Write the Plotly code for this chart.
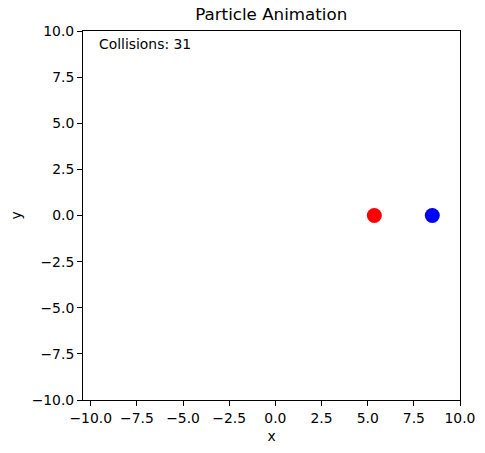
import plotly.graph_objects as go

# 粒子の位置
particle_names = ['p1', 'p2']
particle_x = [5.36, 8.5]
particle_y = [0.0, 0.0]
particle_colors = ['red', 'blue']
collisions = 31

X_RANGE = [-10.42, 10]
Y_RANGE = [-10, 10]
TICKS = [-10, -7.5, -5, -2.5, 0, 2.5, 5, 7.5, 10]
TICK_TEXT = ['\u221210.0', '\u22127.5', '\u22125.0', '\u22122.5', '0.0', '2.5', '5.0', '7.5', '10.0']
FONT = 'DejaVu Sans'

# ページの body margin (8px) を考慮
OFF = 8
W, H = 485 - OFF, 453 - OFF
L, R, T, B = 82.5 - OFF, 25, 31 - OFF, 53

fig = go.Figure(go.Scatter(x=particle_x, y=particle_y, mode='markers', marker=dict(color=particle_colors, size=15), showlegend=False, hoverinfo='skip'))

axis_style = dict(automargin=False, showgrid=False, zeroline=False, showline=True, linecolor='black', linewidth=1, mirror=True, ticks='outside', ticklen=5, tickcolor='black', tickvals=TICKS, ticktext=TICK_TEXT, tickfont=dict(family=FONT, size=13.9, color='black'))

fig.add_annotation(text=f'Collisions: {collisions}', xref='paper', yref='paper', x=0.037, y=0.965, xanchor='left', yanchor='middle', showarrow=False, font=dict(family=FONT, size=13.9, color='black'))

fig.update_layout(
    title=dict(text='Particle Animation', x=((82.5 + 460) / 2 - OFF) / W, xanchor='center', y=1, yref='container', yanchor='top', pad=dict(t=0, b=0), font=dict(family=FONT, size=16.7, color='black')),
    xaxis=dict(range=X_RANGE, title=dict(text='x', font=dict(family=FONT, size=13.9, color='black'), standoff=6), **axis_style),
    yaxis=dict(range=Y_RANGE, title=dict(text='y', font=dict(family=FONT, size=13.9, color='black'), standoff=12), **axis_style),
    width=W, height=H, paper_bgcolor='white', plot_bgcolor='white',
    margin=dict(l=L, r=R, t=T, b=B),
)
fig.write_html('out.html')
